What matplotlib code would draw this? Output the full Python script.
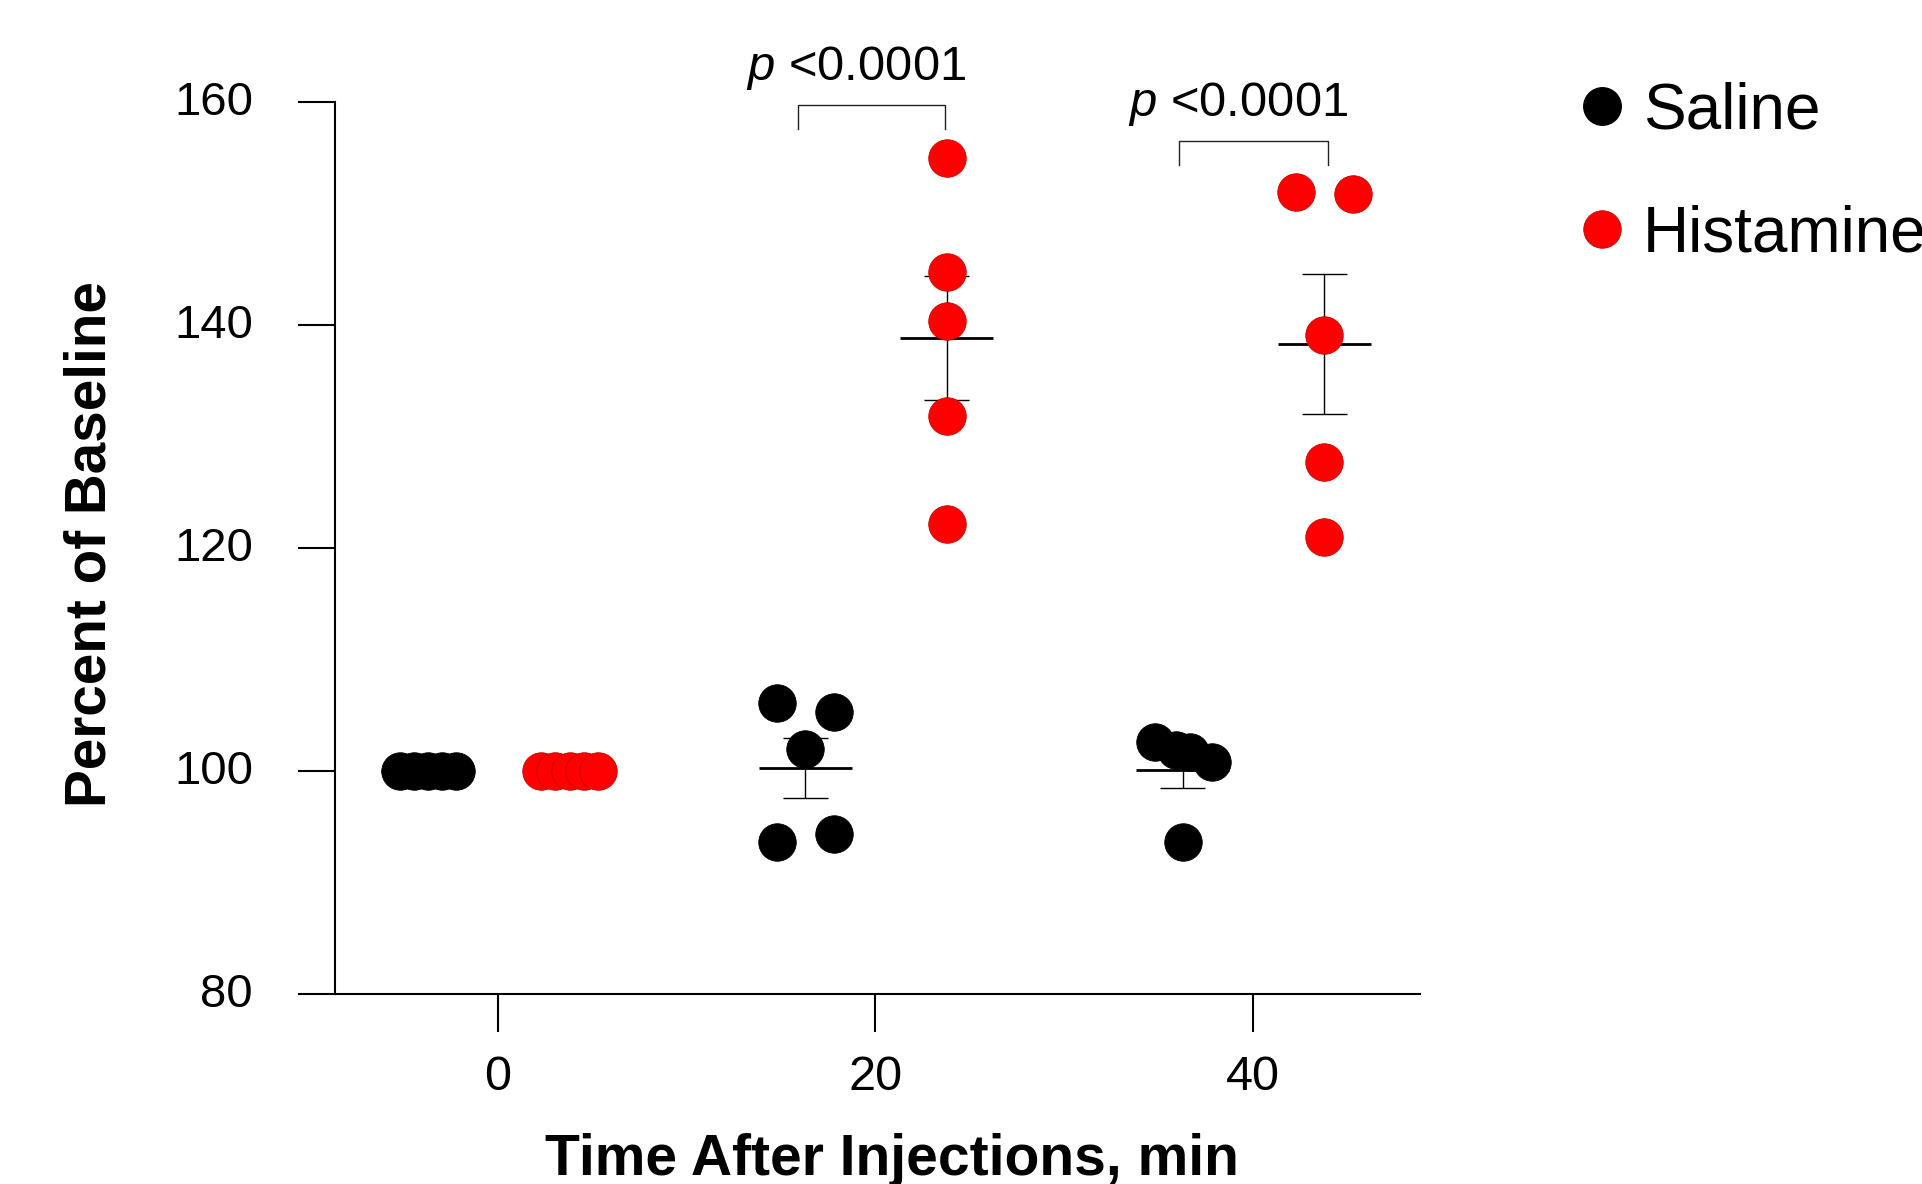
import numpy as np
import matplotlib
matplotlib.use("Agg")
import matplotlib.pyplot as plt
from matplotlib.lines import Line2D
from matplotlib.transforms import ScaledTranslation

plt.rcParams['font.family'] = ['Liberation Sans', 'DejaVu Sans']
plt.rcParams['mathtext.fontset'] = 'custom'
plt.rcParams['mathtext.it'] = 'Liberation Sans:italic'
plt.rcParams['mathtext.rm'] = 'Liberation Sans'

# dados (percent of baseline)
tempos = [0, 20, 40]
salina_x = [[-5.16, -4.42, -3.68, -2.93, -2.19],
            [14.80, 17.84, 16.29, 14.80, 17.84],
            [34.83, 35.94, 36.70, 37.83, 36.34]]
salina_y = [[100, 100, 100, 100, 100],
            [106.10, 105.35, 101.97, 93.69, 94.38],
            [102.63, 101.90, 101.70, 100.83, 93.63]]
hist_x = [[2.30, 3.06, 3.81, 4.57, 5.32],
          [23.80, 23.80, 23.80, 23.80, 23.80],
          [42.30, 45.33, 43.79, 43.79, 43.79]]
hist_y = [[100, 100, 100, 100, 100],
          [155.00, 144.77, 140.41, 131.90, 122.22],
          [152.00, 151.74, 139.14, 127.75, 120.99]]
desloc_grupo = [-3.7, 3.8]  # saline, histamine

# brackets / p-values
colchete_x = [(15.9, 23.7), (36.1, 44.0)]
colchete_y = [157.6, 154.4]
textos_p = ["$p$ <0.0001", "$p$ <0.0001"]

fig = plt.figure(figsize=(19.22, 11.84), dpi=100)
ax = fig.add_axes([0.1743, 0.1602, 0.5643, 0.7534])

grupos = [(salina_x, salina_y, 'black', 'black', 'Saline'),
          (hist_x, hist_y, '#ff0000', '#c80000', 'Histamine')]

for g, (xs, ys, cor, borda, nome) in enumerate(grupos):
    for i, t in enumerate(tempos):
        v = np.array(ys[i], dtype=float)
        media = v.mean()
        sem = v.std(ddof=1) / np.sqrt(len(v))
        xc = t + desloc_grupo[g]
        # media e erro padrao
        ax.hlines(media, xc - 2.47, xc + 2.47, color='black', lw=2.0, zorder=2)
        if sem > 0:
            ax.vlines(xc, media - sem, media + sem, color='black', lw=1.0, zorder=2)
            ax.hlines([media - sem, media + sem], xc - 1.2, xc + 1.2,
                      color='black', lw=1.0, zorder=2)
        ax.plot(xs[i], ys[i], 'o', ms=27, color=cor, mec=borda, mew=0.6,
                linestyle='none', zorder=3)

for (x1, x2), yb in zip(colchete_x, colchete_y):
    ax.plot([x1, x1, x2, x2], [yb, yb + 2.15, yb + 2.15, yb], color='#222222',
            lw=1.0, clip_on=False, zorder=2)

for (x1, x2), yb, txt in zip(colchete_x, colchete_y, textos_p):
    ax.text((x1 + x2) / 2 - 0.8, yb + 4.4, txt, ha='center', va='baseline',
            fontsize=35.3, clip_on=False)

ax.set_xlim(-8.62, 48.85)
ax.set_ylim(80, 160)
ax.set_xticks(tempos)
ax.set_yticks([80, 100, 120, 140, 160])

for lado in ['top', 'right']:
    ax.spines[lado].set_visible(False)
for lado in ['left', 'bottom']:
    ax.spines[lado].set_linewidth(1.5)

ax.tick_params(axis='both', direction='out', length=27, width=1.5)
ax.tick_params(axis='y', pad=32, labelsize=34)
ax.tick_params(axis='x', pad=17, labelsize=35)

# rotulos do eixo y um pouco acima da marca
desloc = ScaledTranslation(0, 4 / 100, fig.dpi_scale_trans)
for rot in ax.get_yticklabels():
    rot.set_transform(rot.get_transform() + desloc)

ax.set_xlabel('Time After Injections, min', fontsize=41, fontweight='bold', va='baseline')
ax.xaxis.set_label_coords(0.5136, -0.2027)
ax.set_ylabel('Percent of Baseline', fontsize=40.8, fontweight='bold', va='baseline')
ax.yaxis.set_label_coords(-0.2115, 0.5046)

handles = [Line2D([], [], marker='o', ls='none', ms=27, color='black', mec='black'),
           Line2D([], [], marker='o', ls='none', ms=27, color='#ff0000', mec='#c80000', mew=0.6)]
fig.legend(handles, ['Saline', 'Histamine'], loc='upper left',
           bbox_to_anchor=(0.820, 0.931), frameon=False, fontsize=46,
           handlelength=0.8, handletextpad=0.25, labelspacing=0.98,
           borderpad=0, borderaxespad=0)

fig.savefig('out.png', dpi=100)
